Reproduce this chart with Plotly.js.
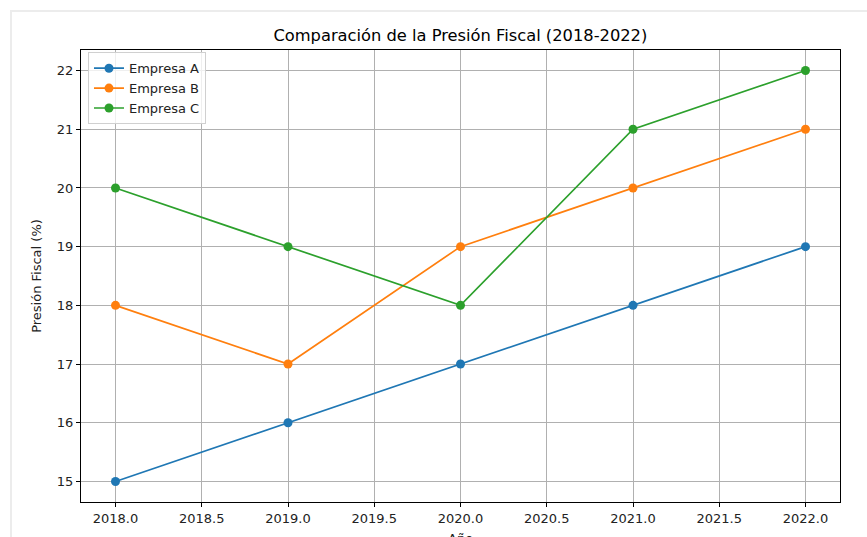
<!DOCTYPE html>
<html>
<head>
<meta charset="utf-8">
<script src="https://cdn.plot.ly/plotly-3.0.1.min.js"></script>
<style>
  html, body { margin: 0; padding: 0; background: #fff; overflow: hidden; }
  #frame { position: absolute; left: 10px; top: 10px; width: 900px; height: 600px;
           border-top: 2px solid #ececec; border-left: 2px solid #ececec; }
  #chart { position: absolute; left: 0; top: 0; width: 867px; height: 537px; }
</style>
</head>
<body>
<div id="frame"></div>
<div id="chart"></div>
<script>
const years = [2018, 2019, 2020, 2021, 2022];
const empresaA = [15, 16, 17, 18, 19];
const empresaB = [18, 17, 19, 20, 21];
const empresaC = [20, 19, 18, 21, 22];
const xTicks = [2018.0, 2018.5, 2019.0, 2019.5, 2020.0, 2020.5, 2021.0, 2021.5, 2022.0];
const xTickText = ['2018.0', '2018.5', '2019.0', '2019.5', '2020.0', '2020.5', '2021.0', '2021.5', '2022.0'];
const yTicks = [15, 16, 17, 18, 19, 20, 21, 22];

const font = 'DejaVu Sans, sans-serif';
function series(name, y, color) {
  return { x: years, y: y, name: name, type: 'scatter', mode: 'lines+markers',
    line: { color: color, width: 1.7 }, marker: { color: color, size: 9 } };
}
const data = [
  series('Empresa A', empresaA, '#1f77b4'),
  series('Empresa B', empresaB, '#ff7f0e'),
  series('Empresa C', empresaC, '#2ca02c')
];
const axisCommon = {
  showline: true, linecolor: '#000', linewidth: 1, mirror: true,
  ticks: 'outside', ticklen: 4, tickwidth: 1, tickcolor: '#000',
  showgrid: true, gridcolor: '#b0b0b0', gridwidth: 1, zeroline: false,
  tickfont: { family: font, size: 13, color: '#222' }
};
const layout = {
  width: 867, height: 537,
  paper_bgcolor: 'rgba(0,0,0,0)', plot_bgcolor: '#fff',
  margin: { l: 81, r: 27, t: 50, b: 35 },
  title: { text: 'Comparación de la Presión Fiscal (2018-2022)', x: 0.531, xanchor: 'center',
           y: 1 - 35/537, yanchor: 'middle', font: { family: font, size: 16.3, color: '#000' } },
  xaxis: Object.assign({}, axisCommon, {
    range: [2017.8, 2022.2], tickmode: 'array', tickvals: xTicks, ticktext: xTickText
  }),
  yaxis: Object.assign({}, axisCommon, {
    range: [14.65, 22.35], tickmode: 'array', tickvals: yTicks,
    title: { text: 'Presión Fiscal (%)', font: { family: font, size: 13, color: '#222' }, standoff: 12 }
  }),
  annotations: [{
    text: 'Año', xref: 'paper', yref: 'paper', x: 0.5, y: -0.0807,
    xanchor: 'center', yanchor: 'middle', showarrow: false,
    font: { family: font, size: 13, color: '#222' }
  }],
  showlegend: true,
  legend: { x: 0.0092, y: 0.995, xanchor: 'left', yanchor: 'top', itemwidth: 30,
    bgcolor: 'rgba(255,255,255,0.8)', bordercolor: '#d0d0d0', borderwidth: 1,
    font: { family: font, size: 13, color: '#222' }, tracegroupgap: 0 }
};
Plotly.newPlot('chart', data, layout, { displayModeBar: false, staticPlot: true });
</script>
</body>
</html>
